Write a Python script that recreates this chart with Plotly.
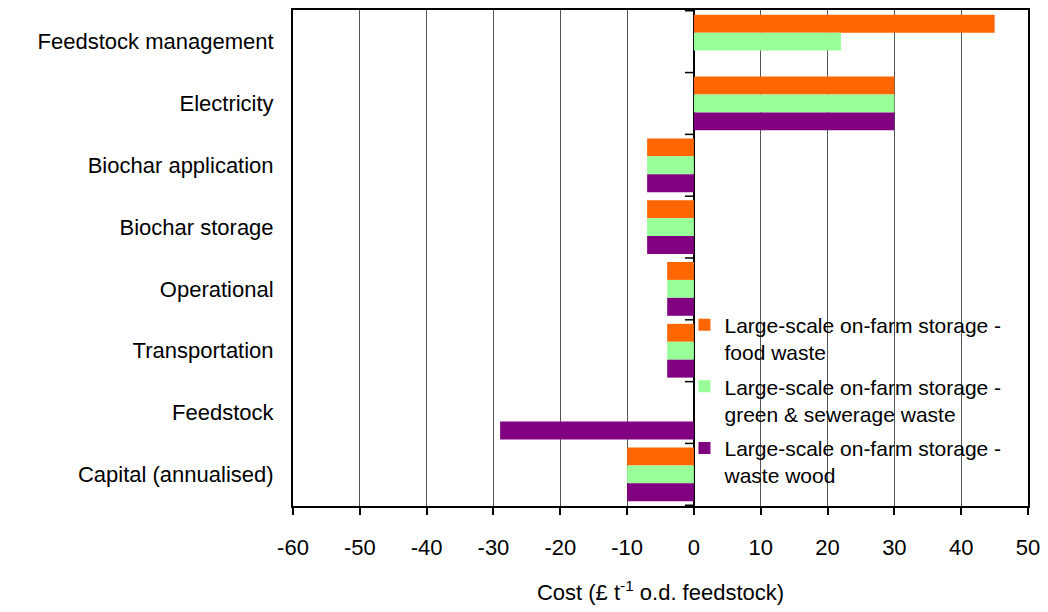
import plotly.graph_objects as go

categories = ["Feedstock management", "Electricity", "Biochar application", "Biochar storage",
              "Operational", "Transportation", "Feedstock", "Capital (annualised)"]
food_waste = [45, 30, -7, -7, -4, -4, None, -10]
green_waste = [22, 30, -7, -7, -4, -4, None, -10]
wood_waste = [None, 30, -7, -7, -4, -4, -29, -10]
series_names = ["Large-scale on-farm storage -<br>food waste",
                "Large-scale on-farm storage -<br>green & sewerage waste",
                "Large-scale on-farm storage -<br>waste wood"]
colors = ["#FF6600", "#99FF99", "#800080"]
x_ticks = list(range(-60, 51, 10))

FONT = "Liberation Sans, Arial, sans-serif"

fig = go.Figure()
for i, (name, vals, c) in enumerate(zip(series_names, [food_waste, green_waste, wood_waste], colors)):
    fig.add_trace(go.Bar(y=categories, x=vals, name=name, orientation="h", legendgroup=f"g{i}",
                         marker=dict(color=c, line=dict(width=0))))

shapes = []
# white area behind the legend (hides gridlines there, like the reference)
shapes.append(dict(type="rect", layer="between", xref="x", yref="paper",
                   x0=0.2, x1=50, y0=0.022, y1=0.402,
                   fillcolor="white", line=dict(width=0)))
# small tick marks on the category axis line at x=0 (category boundaries)
for k in range(len(categories) + 1):
    yb = k - 0.5
    shapes.append(dict(type="line", xref="x", yref="y", xsizemode="pixel", xanchor=0,
                       x0=-9, x1=0, y0=yb, y1=yb, line=dict(color="black", width=1.5)))

fig.update_layout(
    width=1048, height=612,
    margin=dict(l=293, r=19, t=8, b=106),
    paper_bgcolor="white", plot_bgcolor="white",
    barmode="group", bargap=0.13, bargroupgap=0,
    font=dict(family=FONT, size=22, color="black"),
    shapes=shapes,
    legend=dict(x=0.5326, y=0.406, xanchor="left", yanchor="top",
                bgcolor="rgba(0,0,0,0)", borderwidth=0, valign="top",
                font=dict(family=FONT, size=21, color="black"),
                traceorder="grouped", tracegroupgap=4, itemwidth=30),
    showlegend=True,
)
fig.update_xaxes(range=[-60, 50], tickvals=x_ticks, ticktext=[str(v) for v in x_ticks],
                 showgrid=True, gridcolor="#555555", gridwidth=1,
                 zeroline=True, zerolinecolor="black", zerolinewidth=1.5,
                 showline=True, linecolor="black", linewidth=2, mirror=True,
                 ticks="outside", ticklen=7, tickcolor="black", tickwidth=1.5,
                 ticklabelstandoff=14,
                 title=dict(text="Cost (£ t<sup>-1</sup> o.d. feedstock)", font=dict(size=22), standoff=25))
fig.update_yaxes(autorange="reversed", showgrid=False, showline=True, linecolor="black",
                 linewidth=2, mirror=True, ticks="", ticklabelstandoff=13)

fig.write_html("out.html", config={"displayModeBar": False},
               post_script="document.body.style.margin='0';")
